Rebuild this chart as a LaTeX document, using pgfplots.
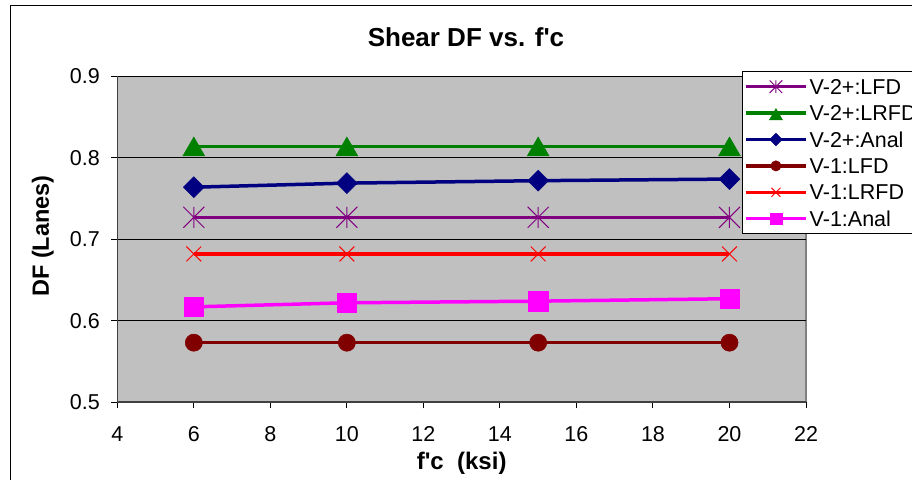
\documentclass[border=0pt]{standalone}
\usepackage{pgfplots}
\pgfplotsset{compat=1.18}
\usepackage{fontspec}
\setmainfont{Liberation Sans}
\newcommand\sq{\XeTeXglyph\XeTeXcharglyph"27\relax}
\definecolor{cPurple}{HTML}{800080}
\definecolor{cGreen}{HTML}{008000}
\definecolor{cNavy}{HTML}{000080}
\definecolor{cDarkRed}{HTML}{800000}
\definecolor{cRed}{HTML}{FF0000}
\definecolor{cMagenta}{HTML}{FF00FF}
\definecolor{cBack}{HTML}{C0C0C0}
\pgfdeclareplotmark{xstar}{%
  \pgfpathmoveto{\pgfqpoint{-\pgfplotmarksize}{-\pgfplotmarksize}}%
  \pgfpathlineto{\pgfqpoint{\pgfplotmarksize}{\pgfplotmarksize}}%
  \pgfpathmoveto{\pgfqpoint{-\pgfplotmarksize}{\pgfplotmarksize}}%
  \pgfpathlineto{\pgfqpoint{\pgfplotmarksize}{-\pgfplotmarksize}}%
  \pgfpathmoveto{\pgfqpoint{0pt}{-\pgfplotmarksize}}%
  \pgfpathlineto{\pgfqpoint{0pt}{\pgfplotmarksize}}%
  \pgfusepathqstroke}
\begin{document}
\begin{tikzpicture}
\begin{axis}[
  at={(117.3pt,76.9pt)}, anchor=south west,
  width=688.7pt, height=325.6pt, scale only axis,
  xmin=4, xmax=22, ymin=0.5, ymax=0.9,
  enlargelimits=false,
  axis lines*=left,
  axis line style={-, draw=black!75, line width=1.3pt},
  axis background/.style={fill=cBack, draw=black!50, line width=1.3pt},
  xtick={4,6,8,10,12,14,16,18,20,22},
  xticklabels={4,6,8,10,12,14,16,18,20,22},
  ytick={0.5,0.6,0.7,0.8,0.9},
  yticklabels={0.5,0.6,0.7,0.8,0.9},
  /pgf/number format/assume math mode=true,
  tick align=outside,
  major tick length=6.3pt,
  tick style={black, line width=1pt},
  ymajorgrids,
  grid style={black, line width=1pt},
  xticklabel style={font=\fontsize{21.5}{24}\selectfont, inner sep=0pt, anchor=north, yshift=-18pt},
  yticklabel style={font=\fontsize{21.5}{24}\selectfont, inner sep=0pt, anchor=east, xshift=-11pt},
  title={Shear DF vs. f\sq c},
  title style={font=\bfseries\fontsize{26}{30}\selectfont, at={(rel axis cs:0.5063,1.074)}, anchor=base, inner sep=0pt},
  xlabel={f\sq c\ \ (ksi)},
  xlabel style={font=\bfseries\fontsize{24}{28}\selectfont, at={(rel axis cs:0.5,-0.2085)}, anchor=base, inner sep=0pt},
  ylabel={DF (Lanes)},
  ylabel style={font=\bfseries\fontsize{23.5}{28}\selectfont, at={(rel axis cs:-0.0992,0.51)}, anchor=base, inner sep=0pt, rotate=0},
  legend style={at={(rel axis cs:0.9066,1.0169)}, anchor=north west,
    draw=black, line width=1pt, fill=white, inner xsep=2pt, inner ysep=5pt,
    font=\fontsize{21.5}{26}\selectfont,
    nodes={inner xsep=2pt, inner ysep=0pt, text height=17.9pt, text depth=2.5pt},
    row sep=6pt},
  legend cell align=left,
  legend image code/.code={%
    \draw[#1, mark size={0.6*\pgfplotmarksize}, mark repeat=2, mark phase=2] plot coordinates {(0pt,0pt) (30pt,0pt) (60pt,0pt)};},
]
\addplot[cPurple, line width=3.5pt, mark=xstar, mark size=10.5pt, mark options={line width=1pt}]
  coordinates {(6,0.727) (10,0.727) (15,0.727) (20,0.727)};
\addlegendentry{V-2+:LFD}
\addplot[cGreen, line width=3.5pt, mark=triangle*, mark size=12.5pt, mark options={line width=0.5pt, yshift=-3pt}]
  coordinates {(6,0.814) (10,0.814) (15,0.814) (20,0.814)};
\addlegendentry{V-2+:LRFD}
\addplot[cNavy, line width=3.5pt, mark=square*, mark size=7.4pt, mark options={line width=0.5pt, rotate=45}]
  coordinates {(6,0.764) (10,0.769) (15,0.772) (20,0.774)};
\addlegendentry{V-2+:Anal}
\addplot[cDarkRed, line width=3.5pt, mark=*, mark size=8.6pt, mark options={line width=0.5pt}]
  coordinates {(6,0.573) (10,0.573) (15,0.573) (20,0.573)};
\addlegendentry{V-1:LFD}
\addplot[cRed, line width=3.5pt, mark=x, mark size=10.5pt, mark options={line width=1pt}]
  coordinates {(6,0.682) (10,0.682) (15,0.682) (20,0.682)};
\addlegendentry{V-1:LRFD}
\addplot[cMagenta, line width=3.5pt, mark=square*, mark size=9.7pt, mark options={line width=0.5pt}]
  coordinates {(6,0.617) (10,0.622) (15,0.624) (20,0.627)};
\addlegendentry{V-1:Anal}
\end{axis}
\draw[black, line width=1.3pt] (10.3pt,-20pt) rectangle (940pt,473.3pt);
\pgfresetboundingbox
\useasboundingbox (0,0) rectangle (912pt,479pt);
\end{tikzpicture}
\end{document}
